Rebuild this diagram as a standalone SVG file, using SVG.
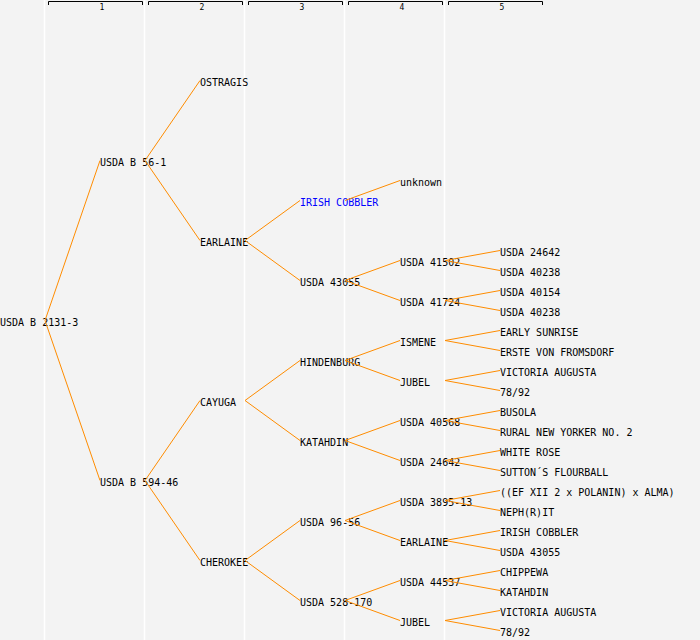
<svg xmlns="http://www.w3.org/2000/svg" width="700" height="640" viewBox="0 0 700 640">
<style>
.bg{fill:#f3f3f3}
.grid{stroke:#ffffff;stroke-width:1.5}
.br{fill:none;stroke:#000;stroke-width:1}
.hd{font-family:"DejaVu Sans Mono","Liberation Mono",monospace;font-size:8px;fill:#000;text-anchor:middle}
text.n{font-family:"DejaVu Sans Mono","Liberation Mono",monospace;font-size:10px;fill:#000}
text.blue{fill:#0000ff}
#connectors line{stroke:#ff8c00;stroke-width:1}
</style>
<rect class="bg" x="0" y="0" width="700" height="640"/>
<g id="grid">
<line class="grid" x1="44.5" y1="0" x2="44.5" y2="640"/>
<line class="grid" x1="144.5" y1="0" x2="144.5" y2="640"/>
<line class="grid" x1="244.5" y1="0" x2="244.5" y2="640"/>
<line class="grid" x1="344.5" y1="0" x2="344.5" y2="640"/>
<line class="grid" x1="444.5" y1="0" x2="444.5" y2="640"/>
</g>
<g id="header">
<path class="br" d="M48.5,5 V1.5 H142.5 V5"/>
<path class="br" d="M148.5,5 V1.5 H242.5 V5"/>
<path class="br" d="M248.5,5 V1.5 H342.5 V5"/>
<path class="br" d="M348.5,5 V1.5 H442.5 V5"/>
<path class="br" d="M448.5,5 V1.5 H542.5 V5"/>
<text class="hd" x="102" y="9.5">1</text>
<text class="hd" x="202" y="9.5">2</text>
<text class="hd" x="302" y="9.5">3</text>
<text class="hd" x="402" y="9.5">4</text>
<text class="hd" x="502" y="9.5">5</text>
</g>
<g id="nodes">
<g id="n0"><text class="n" x="0" y="326">USDA B 2131-3</text></g>
<g id="n1a"><text class="n" x="100" y="166">USDA B 56-1</text></g>
<g id="n1b"><text class="n" x="100" y="486">USDA B 594-46</text></g>
<g id="n2a"><text class="n" x="200" y="86">OSTRAGIS</text></g>
<g id="n2b"><text class="n" x="200" y="246">EARLAINE</text></g>
<g id="n2c"><text class="n" x="200" y="406">CAYUGA</text></g>
<g id="n2d"><text class="n" x="200" y="566">CHEROKEE</text></g>
<g id="n3a"><text class="n blue" x="300" y="206">IRISH COBBLER</text></g>
<g id="n3b"><text class="n" x="300" y="286">USDA 43055</text></g>
<g id="n3c"><text class="n" x="300" y="366">HINDENBURG</text></g>
<g id="n3d"><text class="n" x="300" y="446">KATAHDIN</text></g>
<g id="n3e"><text class="n" x="300" y="526">USDA 96-56</text></g>
<g id="n3f"><text class="n" x="300" y="606">USDA 528-170</text></g>
<g id="n4a"><text class="n" x="400" y="186">unknown</text></g>
<g id="n4b"><text class="n" x="400" y="266">USDA 41502</text></g>
<g id="n4c"><text class="n" x="400" y="306">USDA 41724</text></g>
<g id="n4d"><text class="n" x="400" y="346">ISMENE</text></g>
<g id="n4e"><text class="n" x="400" y="386">JUBEL</text></g>
<g id="n4f"><text class="n" x="400" y="426">USDA 40568</text></g>
<g id="n4g"><text class="n" x="400" y="466">USDA 24642</text></g>
<g id="n4h"><text class="n" x="400" y="506">USDA 3895-13</text></g>
<g id="n4i"><text class="n" x="400" y="546">EARLAINE</text></g>
<g id="n4j"><text class="n" x="400" y="586">USDA 44537</text></g>
<g id="n4k"><text class="n" x="400" y="626">JUBEL</text></g>
<g id="n5a"><text class="n" x="500" y="256">USDA 24642</text></g>
<g id="n5b"><text class="n" x="500" y="276">USDA 40238</text></g>
<g id="n5c"><text class="n" x="500" y="296">USDA 40154</text></g>
<g id="n5d"><text class="n" x="500" y="316">USDA 40238</text></g>
<g id="n5e"><text class="n" x="500" y="336">EARLY SUNRISE</text></g>
<g id="n5f"><text class="n" x="500" y="356">ERSTE VON FROMSDORF</text></g>
<g id="n5g"><text class="n" x="500" y="376">VICTORIA AUGUSTA</text></g>
<g id="n5h"><text class="n" x="500" y="396">78/92</text></g>
<g id="n5i"><text class="n" x="500" y="416">BUSOLA</text></g>
<g id="n5j"><text class="n" x="500" y="436">RURAL NEW YORKER NO. 2</text></g>
<g id="n5k"><text class="n" x="500" y="456">WHITE ROSE</text></g>
<g id="n5l"><text class="n" x="500" y="476">SUTTON´S FLOURBALL</text></g>
<g id="n5m"><text class="n" x="500" y="496">((EF XII 2 x POLANIN) x ALMA)</text></g>
<g id="n5n"><text class="n" x="500" y="516">NEPH(R)IT</text></g>
<g id="n5o"><text class="n" x="500" y="536">IRISH COBBLER</text></g>
<g id="n5p"><text class="n" x="500" y="556">USDA 43055</text></g>
<g id="n5q"><text class="n" x="500" y="576">CHIPPEWA</text></g>
<g id="n5r"><text class="n" x="500" y="596">KATAHDIN</text></g>
<g id="n5s"><text class="n" x="500" y="616">VICTORIA AUGUSTA</text></g>
<g id="n5t"><text class="n" x="500" y="636">78/92</text></g>
</g>
<g id="connectors">
<line x1="45" y1="320.5" x2="100" y2="160.5"/>
<line x1="45" y1="320.5" x2="100" y2="480.5"/>
<line x1="145" y1="160.5" x2="200" y2="80.5"/>
<line x1="145" y1="160.5" x2="200" y2="240.5"/>
<line x1="145" y1="480.5" x2="200" y2="400.5"/>
<line x1="145" y1="480.5" x2="200" y2="560.5"/>
<line x1="245" y1="240.5" x2="300" y2="200.5"/>
<line x1="245" y1="240.5" x2="300" y2="280.5"/>
<line x1="245" y1="400.5" x2="300" y2="360.5"/>
<line x1="245" y1="400.5" x2="300" y2="440.5"/>
<line x1="245" y1="560.5" x2="300" y2="520.5"/>
<line x1="245" y1="560.5" x2="300" y2="600.5"/>
<line x1="345" y1="200.5" x2="400" y2="180.5"/>
<line x1="345" y1="280.5" x2="400" y2="260.5"/>
<line x1="345" y1="280.5" x2="400" y2="300.5"/>
<line x1="345" y1="360.5" x2="400" y2="340.5"/>
<line x1="345" y1="360.5" x2="400" y2="380.5"/>
<line x1="345" y1="440.5" x2="400" y2="420.5"/>
<line x1="345" y1="440.5" x2="400" y2="460.5"/>
<line x1="345" y1="520.5" x2="400" y2="500.5"/>
<line x1="345" y1="520.5" x2="400" y2="540.5"/>
<line x1="345" y1="600.5" x2="400" y2="580.5"/>
<line x1="345" y1="600.5" x2="400" y2="620.5"/>
<line x1="445" y1="260.5" x2="500" y2="250.5"/>
<line x1="445" y1="260.5" x2="500" y2="270.5"/>
<line x1="445" y1="300.5" x2="500" y2="290.5"/>
<line x1="445" y1="300.5" x2="500" y2="310.5"/>
<line x1="445" y1="340.5" x2="500" y2="330.5"/>
<line x1="445" y1="340.5" x2="500" y2="350.5"/>
<line x1="445" y1="380.5" x2="500" y2="370.5"/>
<line x1="445" y1="380.5" x2="500" y2="390.5"/>
<line x1="445" y1="420.5" x2="500" y2="410.5"/>
<line x1="445" y1="420.5" x2="500" y2="430.5"/>
<line x1="445" y1="460.5" x2="500" y2="450.5"/>
<line x1="445" y1="460.5" x2="500" y2="470.5"/>
<line x1="445" y1="500.5" x2="500" y2="490.5"/>
<line x1="445" y1="500.5" x2="500" y2="510.5"/>
<line x1="445" y1="540.5" x2="500" y2="530.5"/>
<line x1="445" y1="540.5" x2="500" y2="550.5"/>
<line x1="445" y1="580.5" x2="500" y2="570.5"/>
<line x1="445" y1="580.5" x2="500" y2="590.5"/>
<line x1="445" y1="620.5" x2="500" y2="610.5"/>
<line x1="445" y1="620.5" x2="500" y2="630.5"/>
</g>
</svg>
